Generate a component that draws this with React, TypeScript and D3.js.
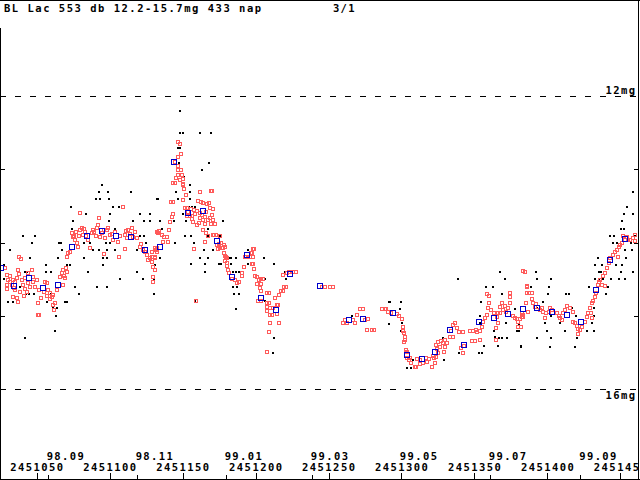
import React from 'react';
import * as d3 from 'd3';

// JD values are stored as JD - 2450000
const JD0 = 2450000;

// 10-day means (blue squares)
const means: [number, number][] = [
  [1025.6, 14.35], [1034.5, 14.59], [1044.7, 14.48], [1054.3, 14.62], [1064.5, 14.58],
  [1074.4, 14.06], [1084.3, 13.91], [1094.6, 13.84], [1104.1, 13.91], [1114.4, 13.92],
  [1123.9, 14.10], [1134.2, 14.06], [1144.4, 12.90], [1154.0, 13.6], [1164.2, 13.57],
  [1173.8, 13.98], [1184.0, 14.47], [1194.3, 14.17], [1203.9, 14.76], [1214.1, 14.92],
  [1223.6, 14.43], [1244.1, 14.59], [1263.9, 15.06], [1273.5, 15.04], [1294.0, 14.96],
  [1303.5, 15.54], [1313.8, 15.59], [1323.3, 15.49], [1333.6, 15.19], [1343.2, 15.40],
  [1353.4, 15.09], [1363.6, 15.03], [1373.2, 14.98], [1383.4, 14.91], [1393.0, 14.89],
  [1403.2, 14.95], [1413.5, 14.99], [1423.0, 15.09], [1433.3, 14.65], [1442.8, 14.24],
  [1453.1, 13.95],
];

// visual estimates (red squares)
const visual: [number, number][] = [
  [1028.3, 14.35], [1029.6, 14.44], [1031.7, 14.46], [1037.9, 14.2], [1039.2, 14.22], [1037.2, 14.37],
  [1037.9, 14.43], [1030.3, 14.51], [1033.8, 14.51], [1029.6, 14.58], [1029.6, 14.63], [1033.1, 14.58],
  [1035.1, 14.65], [1033.8, 14.74], [1036.5, 14.76], [1037.2, 14.81], [1035.1, 14.54], [1036.5, 14.48],
  [1039.9, 14.51], [1042.0, 14.48], [1044.0, 14.42], [1046.8, 14.38], [1047.5, 14.47], [1042.0, 14.63],
  [1040.6, 14.58], [1044.0, 14.55], [1047.5, 14.54], [1050.2, 14.51], [1048.8, 14.61], [1051.6, 14.65],
  [1050.9, 14.82], [1053.0, 14.76], [1050.9, 14.99], [1051.5, 14.99], [1055.7, 14.54], [1057.1, 14.55],
  [1057.7, 14.65], [1059.1, 14.69], [1060.5, 14.74], [1061.2, 14.72], [1062.5, 14.83], [1061.2, 14.85],
  [1061.9, 14.92], [1063.9, 14.65], [1066.0, 14.47], [1067.3, 14.42], [1068.0, 14.38], [1070.8, 14.4],
  [1069.4, 14.48], [1068.0, 14.58], [1070.8, 14.2], [1071.5, 14.14], [1072.8, 14.13], [1074.2, 13.87],
  [1074.9, 13.92], [1076.3, 13.97], [1077.6, 14.01], [1078.3, 14.06], [1079.7, 13.83], [1081.0, 13.8],
  [1079.7, 13.6], [1081.7, 13.9], [1083.1, 13.86], [1085.2, 13.97], [1086.5, 14.07], [1087.9, 13.87],
  [1088.6, 13.83], [1091.3, 13.8], [1092.0, 13.76], [1092.7, 13.67], [1093.4, 13.92], [1094.8, 13.87],
  [1096.8, 13.94], [1098.2, 13.83], [1098.9, 13.8], [1100.2, 13.9], [1102.3, 13.97], [1105.7, 13.99],
  [1103.7, 13.86], [1109.2, 13.52], [1110.5, 13.9], [1111.9, 13.94], [1112.6, 13.83], [1115.3, 13.8],
  [1116.0, 13.92], [1110.5, 14.09], [1106.4, 14.2], [1096.1, 14.16], [1118.7, 13.94], [1120.8, 14.06],
  [1122.9, 14.1], [1125.6, 14.17], [1126.3, 14.24], [1129.0, 14.27], [1129.7, 14.33], [1131.1, 14.21],
  [1132.5, 14.13], [1133.1, 13.87], [1129.7, 14.47], [1129.7, 14.54], [1131.1, 14.37],
  [1031.7, 14.54], [1034.4, 14.62], [1038.6, 14.67], [1041.3, 14.73], [1043.4, 14.67], [1045.4, 14.61],
  [1055.0, 14.68], [1057.1, 14.73], [1059.1, 14.77], [1068.7, 14.46], [1070.1, 14.35], [1075.6, 13.91],
  [1077.0, 13.86], [1079.0, 13.91], [1082.4, 13.82], [1083.8, 13.91], [1089.3, 13.86], [1090.6, 13.91],
  [1096.1, 13.83], [1101.6, 13.88], [1107.1, 13.91], [1111.2, 13.84], [1114.0, 13.88], [1117.4, 13.86],
  [1121.5, 14.02], [1124.2, 14.13], [1127.7, 14.21],
  // outburst
  [1146.9, 12.63], [1148.2, 12.66], [1146.9, 12.83], [1148.9, 12.79], [1144.8, 12.9], [1146.9, 12.96],
  [1148.9, 13.01], [1146.9, 13.08], [1149.6, 13.08], [1148.2, 13.15], [1150.3, 13.13], [1143.4, 13.19],
  [1144.8, 13.19], [1150.3, 13.2], [1150.3, 13.21], [1151.0, 13.27], [1152.3, 13.35], [1150.3, 13.42],
  [1143.4, 13.45], [1142.1, 13.45], [1161.9, 13.31], [1169.5, 13.3], [1170.2, 13.3], [1160.6, 13.43],
  [1162.6, 13.45], [1164.0, 13.46], [1166.7, 13.47], [1168.1, 13.46], [1151.6, 13.53], [1153.0, 13.53],
  [1155.8, 13.54], [1157.8, 13.56], [1159.9, 13.57], [1161.9, 13.6], [1163.3, 13.62], [1165.4, 13.65],
  [1168.8, 13.53], [1170.8, 13.54], [1170.2, 13.62], [1153.0, 13.64], [1155.1, 13.64], [1156.4, 13.64],
  [1143.4, 13.61], [1142.7, 13.65], [1141.4, 13.72], [1157.1, 13.72], [1159.9, 13.76], [1161.2, 13.73],
  [1164.0, 13.69], [1167.4, 13.69], [1169.5, 13.75], [1170.8, 13.69], [1172.2, 13.75], [1165.4, 13.75],
  [1164.0, 13.83], [1166.0, 13.87], [1167.4, 13.91], [1170.8, 13.9], [1172.9, 13.9], [1175.6, 13.91],
  [1165.4, 13.99], [1176.3, 14.01], [1173.6, 14.03], [1178.4, 14.03], [1177.0, 14.07], [1179.1, 14.06],
  [1175.6, 14.07], [1157.8, 14.09], [1178.4, 14.14], [1179.8, 14.2], [1198.3, 14.09], [1196.9, 14.14],
  [1193.5, 14.2], [1196.2, 14.2], [1140.7, 13.83], [1132.5, 13.86], [1133.8, 13.84], [1135.9, 13.9],
  [1137.3, 13.92], [1139.3, 13.92], [1140.0, 13.99], [1136.6, 13.99], [1131.1, 14.07], [1129.0, 14.13],
  [1131.8, 14.1], [1131.1, 14.2], [1129.0, 14.2], [1132.5, 14.07], [1171.5, 13.9],
  [1153.7, 13.58], [1158.5, 13.61], [1161.9, 13.67], [1166.0, 13.58], [1168.8, 13.67], [1156.4, 13.68],
  [1146.9, 13.01], [1145.5, 13.12],
  // decline
  [1175.0, 14.02], [1177.7, 14.07], [1174.3, 14.09], [1179.1, 14.18], [1180.4, 14.21], [1179.1, 14.25],
  [1180.4, 14.28], [1180.4, 14.32], [1181.1, 14.37], [1181.8, 14.42], [1183.9, 14.5], [1185.9, 14.51],
  [1187.3, 14.55], [1188.7, 14.54], [1190.7, 14.46], [1190.7, 14.42], [1192.1, 14.33], [1192.8, 14.2],
  [1197.6, 14.14], [1198.9, 14.09], [1198.3, 14.2], [1197.6, 14.29], [1198.3, 14.29], [1198.9, 14.36],
  [1199.6, 14.46], [1201.0, 14.47], [1202.4, 14.51], [1203.7, 14.5], [1205.1, 14.5], [1201.0, 14.57],
  [1203.7, 14.57], [1203.1, 14.62], [1203.7, 14.66], [1207.8, 14.69], [1209.2, 14.69], [1213.3, 14.76],
  [1216.1, 14.72], [1217.4, 14.66], [1218.8, 14.66], [1219.5, 14.61], [1220.9, 14.61], [1218.8, 14.44],
  [1221.6, 14.42], [1223.0, 14.4], [1225.7, 14.4], [1227.7, 14.4], [1201.7, 14.8], [1203.7, 14.8],
  [1207.8, 14.83], [1209.2, 14.83], [1207.8, 14.88], [1209.9, 14.89], [1212.0, 14.89], [1207.8, 14.94],
  [1209.9, 14.99], [1211.3, 14.99], [1214.7, 14.85], [1215.4, 14.85], [1214.7, 14.98], [1216.1, 15.1],
  [1209.9, 15.1], [1209.2, 15.22], [1207.8, 15.49], [1159.2, 14.8],
  // spring
  [1245.5, 14.61], [1247.6, 14.61], [1251.0, 14.61], [1253.1, 14.61], [1271.6, 14.91], [1273.6, 14.91],
  [1269.5, 14.99], [1261.3, 15.06], [1262.7, 15.1], [1266.8, 15.06], [1268.2, 15.1], [1275.0, 15.06],
  [1277.1, 15.04], [1276.4, 15.19], [1279.8, 15.19], [1281.2, 15.19], [1286.7, 14.91], [1288.7, 14.91],
  [1290.8, 14.95], [1259.9, 15.1],
  // minimum
  [1289.4, 14.91], [1292.8, 14.96], [1297.0, 14.98], [1298.3, 15.0], [1300.4, 15.04], [1301.1, 15.15],
  [1301.1, 15.21], [1301.8, 15.24], [1302.4, 15.33], [1301.8, 15.36], [1303.1, 15.47], [1303.8, 15.49],
  [1303.8, 15.58], [1305.2, 15.6], [1306.6, 15.64], [1309.3, 15.7], [1310.7, 15.59], [1312.7, 15.6],
  [1314.8, 15.64], [1317.5, 15.63], [1318.9, 15.59], [1321.0, 15.7], [1322.3, 15.58], [1323.7, 15.56],
  [1323.0, 15.64], [1325.1, 15.36], [1327.1, 15.34], [1328.5, 15.37], [1331.2, 15.37], [1329.9, 15.43],
  [1333.3, 15.29], [1334.0, 15.21], [1335.3, 15.13], [1336.7, 15.1], [1338.1, 15.17], [1339.4, 15.22],
  [1342.2, 15.22], [1335.3, 15.29], [1326.4, 15.43], [1324.4, 15.45], [1325.1, 15.51], [1329.2, 15.49],
  [1340.8, 15.44], [1342.9, 15.41], [1347.0, 15.21], [1349.0, 15.21], [1351.8, 15.22], [1353.8, 15.21],
  [1355.2, 15.15], [1355.9, 15.09], [1357.3, 15.03], [1358.6, 14.99], [1359.3, 14.89], [1358.6, 14.7],
  [1360.0, 14.73], [1360.0, 14.83], [1361.4, 14.92], [1363.4, 14.96], [1365.5, 15.02], [1366.2, 15.1],
  [1364.8, 15.17], [1364.8, 15.33], [1366.2, 14.96], [1367.6, 14.88], [1369.0, 14.83], [1369.6, 14.92],
  [1371.0, 14.87], [1373.0, 14.89], [1374.4, 14.69], [1374.4, 14.74], [1374.4, 14.83], [1376.5, 15.0],
  [1379.2, 15.04], [1379.9, 15.09], [1381.3, 15.04], [1382.6, 15.02], [1379.9, 15.15], [1383.3, 14.99],
  [1385.4, 14.83], [1386.1, 14.69], [1386.1, 14.59], [1384.7, 14.4], [1353.8, 15.33], [1350.4, 15.34],
  [1348.4, 15.34], [1351.1, 15.19], [1302.4, 15.29], [1323.7, 15.4], [1342.2, 15.51], [1321.6, 15.55],
  [1310.0, 15.7],
  [1305.9, 15.58], [1312.7, 15.66], [1316.8, 15.58], [1329.9, 15.33], [1367.6, 14.96], [1371.7, 14.95],
  [1377.8, 15.03],
  // late rise
  [1383.3, 14.39], [1386.1, 14.61], [1387.4, 14.69], [1389.5, 14.69], [1389.5, 14.77], [1390.2, 14.83],
  [1392.2, 14.84], [1391.5, 14.88], [1393.6, 14.88], [1396.3, 14.89], [1397.0, 14.95], [1399.1, 14.96],
  [1398.4, 15.03], [1401.1, 14.95], [1403.2, 14.92], [1406.6, 14.96], [1408.0, 15.0], [1410.0, 15.06],
  [1410.7, 14.96], [1412.1, 14.92], [1413.5, 14.87], [1415.5, 14.89], [1417.6, 14.95], [1417.6, 15.09],
  [1419.0, 15.1], [1420.3, 15.14], [1421.0, 15.18], [1421.0, 15.25], [1423.8, 15.15], [1425.8, 15.09],
  [1427.2, 15.02], [1427.9, 14.96], [1429.2, 14.89], [1430.6, 14.83], [1431.3, 14.8], [1432.7, 14.74],
  [1433.4, 14.69], [1434.7, 14.58], [1436.1, 14.51], [1438.1, 14.46], [1439.5, 14.42], [1440.9, 14.35],
  [1442.3, 14.28], [1445.0, 14.17], [1446.4, 14.13], [1447.7, 14.1], [1449.1, 14.06], [1451.2, 14.01],
  [1453.2, 13.97], [1454.6, 13.92], [1456.7, 13.97], [1458.7, 13.94], [1460.1, 13.9], [1460.1, 13.98],
  [1451.8, 13.91], [1448.4, 14.2], [1437.5, 14.58], [1439.5, 14.59], [1435.4, 14.54], [1430.6, 15.03],
  [1429.9, 14.96], [1385.4, 14.83], [1382.6, 14.96], [1383.3, 15.02], [1381.9, 15.15], [1386.8, 14.95],
  [1395.0, 14.92], [1401.8, 14.89], [1408.7, 15.03], [1422.4, 15.19], [1443.0, 14.21], [1449.8, 14.03],
  [1455.3, 13.97],
];

// other observations (black dots)
const other: [number, number][] = [
  [1094.8, 13.21], [1092.7, 13.31], [1098.9, 13.31], [1114.6, 13.31], [1090.6, 13.41], [1093.4, 13.41],
  [1099.6, 13.41], [1132.5, 13.41], [1073.5, 13.51], [1102.3, 13.51], [1106.4, 13.51], [1083.8, 13.61],
  [1100.2, 13.61], [1120.8, 13.61], [1127.7, 13.61], [1074.9, 13.71], [1099.6, 13.71], [1116.0, 13.71],
  [1123.5, 13.71], [1127.7, 13.71], [1074.2, 13.82], [1103.7, 13.82], [1040.6, 13.91], [1048.8, 13.91],
  [1076.3, 13.91], [1120.8, 13.91], [1123.5, 13.91], [1046.8, 14.01], [1065.3, 14.01], [1066.7, 14.01],
  [1082.4, 14.01], [1086.5, 14.01], [1097.5, 14.01], [1100.2, 14.01], [1124.9, 14.01], [1031.7, 14.1],
  [1067.3, 14.1], [1088.6, 14.1], [1092.7, 14.1], [1098.2, 14.1], [1103.7, 14.1], [1118.7, 14.1],
  [1045.4, 14.21], [1064.6, 14.21], [1082.4, 14.21], [1095.5, 14.21], [1098.2, 14.21], [1027.6, 14.31],
  [1056.4, 14.31], [1070.8, 14.31], [1072.8, 14.31], [1095.5, 14.31], [1131.1, 14.31], [1056.4, 14.4],
  [1059.8, 14.4], [1042.0, 14.4], [1043.4, 14.4], [1085.2, 14.4], [1118.7, 14.4], [1027.6, 14.5],
  [1107.1, 14.5], [1122.9, 14.5], [1130.4, 14.5], [1038.6, 14.61], [1076.3, 14.61], [1091.3, 14.61],
  [1098.2, 14.61], [1042.7, 14.7], [1044.7, 14.7], [1048.2, 14.7], [1079.0, 14.7], [1059.8, 14.7],
  [1130.4, 14.7], [1030.3, 14.81], [1033.8, 14.81], [1057.1, 14.81], [1069.4, 14.81], [1070.8, 14.81],
  [1061.2, 14.89], [1063.9, 14.89], [1063.2, 15.0], [1062.5, 15.21], [1042.0, 15.31],
  [1148.2, 12.2], [1148.2, 12.5], [1150.3, 12.5], [1161.9, 12.5], [1169.5, 12.5], [1146.9, 12.71],
  [1148.2, 12.71], [1147.5, 12.91], [1168.1, 12.91], [1163.3, 13.01], [1151.0, 13.11], [1155.1, 13.21],
  [1145.5, 13.31], [1155.1, 13.31], [1133.1, 13.41], [1146.9, 13.41], [1155.1, 13.41], [1154.4, 13.51],
  [1156.4, 13.51], [1158.5, 13.51], [1150.3, 13.61], [1134.5, 13.71], [1144.1, 13.71], [1152.3, 13.71],
  [1177.7, 13.71], [1167.4, 13.82], [1135.9, 13.82], [1151.6, 13.91], [1155.8, 13.91], [1167.4, 13.91],
  [1175.6, 13.91], [1144.8, 14.01], [1157.8, 14.01], [1164.7, 14.1], [1170.8, 14.1], [1194.8, 14.1],
  [1161.9, 14.21], [1167.4, 14.21], [1181.8, 14.21], [1183.2, 14.21], [1186.6, 14.21], [1205.8, 14.21],
  [1134.5, 14.21],
  [1155.8, 14.29], [1165.4, 14.29], [1175.0, 14.29], [1176.3, 14.29], [1183.2, 14.29], [1194.8, 14.29],
  [1212.6, 14.29], [1165.4, 14.4], [1184.5, 14.4], [1186.6, 14.4], [1188.7, 14.4], [1220.2, 14.4],
  [1206.5, 14.5], [1182.5, 14.5], [1220.9, 14.5], [1184.5, 14.61], [1187.3, 14.61], [1185.2, 14.7],
  [1188.7, 14.7], [1158.5, 14.8], [1206.5, 14.8], [1186.6, 14.91], [1212.6, 15.3], [1212.0, 15.51],
  [1266.1, 15.0], [1291.5, 14.81], [1291.5, 15.11],
  [1367.6, 14.4], [1338.8, 14.5], [1371.0, 14.5], [1358.0, 14.61], [1362.7, 14.61], [1292.2, 14.81],
  [1299.7, 14.81], [1354.5, 14.81], [1369.0, 14.7], [1299.0, 14.91], [1377.8, 14.91], [1353.8, 15.0],
  [1300.4, 15.1], [1353.8, 15.1], [1371.7, 15.1], [1380.6, 15.11], [1299.7, 15.21], [1363.4, 15.21],
  [1379.2, 15.21], [1380.6, 15.21], [1364.1, 15.29], [1366.9, 15.3], [1369.0, 15.3], [1372.4, 15.3],
  [1328.5, 15.3], [1356.6, 15.41], [1366.2, 15.41], [1381.9, 15.41], [1339.4, 15.51], [1353.2, 15.51],
  [1355.2, 15.51], [1307.9, 15.6], [1329.2, 15.6], [1303.8, 15.71], [1306.6, 15.71],
  [1458.7, 13.31], [1454.6, 13.52], [1452.5, 13.61], [1458.7, 13.61], [1451.2, 13.71], [1450.5, 13.82],
  [1452.5, 13.82], [1443.0, 13.91], [1445.7, 13.91], [1460.1, 13.91], [1445.0, 14.01], [1447.7, 14.01],
  [1457.3, 14.01], [1453.2, 14.1], [1458.0, 14.1], [1434.7, 14.21], [1453.9, 14.21], [1432.7, 14.31],
  [1437.5, 14.31], [1447.1, 14.31], [1451.2, 14.31], [1435.4, 14.4], [1436.8, 14.4], [1450.5, 14.4],
  [1458.7, 14.4], [1392.2, 14.4], [1435.4, 14.5], [1438.1, 14.5], [1443.6, 14.5], [1449.1, 14.5],
  [1453.2, 14.5], [1392.9, 14.5], [1402.5, 14.5], [1432.7, 14.5], [1388.8, 14.61], [1401.1, 14.61],
  [1428.6, 14.61], [1441.6, 14.61], [1412.8, 14.7], [1414.8, 14.7], [1440.2, 14.7], [1400.4, 14.7],
  [1397.0, 14.81], [1416.9, 14.89], [1432.0, 14.89], [1392.9, 14.89], [1402.5, 15.0], [1419.6, 15.0],
  [1432.0, 15.0], [1398.4, 15.1], [1408.7, 15.1], [1430.6, 15.1], [1427.2, 15.21], [1432.0, 15.21],
  [1412.1, 15.21], [1399.8, 15.21], [1420.3, 15.31], [1392.9, 15.31], [1402.5, 15.31], [1418.9, 15.42],
  [1401.8, 15.42], [1382.0, 15.42],
];

const jdTicks = [1050, 1100, 1150, 1200, 1250, 1300, 1350, 1400, 1450];
const monthLabels = ['98.09', '98.11', '99.01', '99.03', '99.05', '99.07', '99.09'];
const monthStarts = [1057.5, 1118.5, 1179.5, 1238.5, 1299.5, 1360.5, 1422.5];
const magTicks = [13, 14, 15];
const magLines = [12, 16];
const title = 'BL Lac 553 db 12.2-15.7mg 433 nap';
const page = '3/1';

const W = 640;
const H = 480;
const CH = 7.85;

const x = d3.scaleLinear().domain([1050, 1450]).range([36.7, 620.3]);
const y = d3.scaleLinear().domain([12, 16]).range([96, 389]);

const RED = '#ff5a5a';
const BLUE = '#0000cc';

function Label({ tx, ty, s, anchor = 'start' }: { tx: number; ty: number; s: string; anchor?: string }) {
  return (
    <text
      x={tx}
      y={ty}
      textAnchor={anchor}
      textLength={s.length * CH - 2}
      lengthAdjust="spacing"
      fontFamily="'DejaVu Sans Mono', monospace"
      fontWeight="bold"
      fontSize={10.5}
      fill="#000"
    >
      {s}
    </text>
  );
}

export default function App() {
  const px = (d: number) => Math.round(x(d));
  const py = (m: number) => Math.round(y(m));

  return (
    <svg
      width={W}
      height={H}
      style={{ position: 'absolute', left: 0, top: 0, background: '#fff' }}
      shapeRendering="crispEdges"
    >
      <rect width={W} height={H} fill="#fff" />

      {/* dashed limit lines */}
      {magLines.map(m => (
        <line key={m} x1={0} x2={W} y1={py(m) + 0.5} y2={py(m) + 0.5}
          stroke="#000" strokeWidth={1} strokeDasharray="6 9" />
      ))}

      {/* observations */}
      <g>
        {other.map(([d, m], i) => (
          <rect key={i} x={px(d) - 1} y={py(m) - 1} width={2} height={2} fill="#000" />
        ))}
      </g>
      <g>
        {visual.map(([d, m], i) => (
          <rect key={i} x={px(d) - 1.5} y={py(m) - 1.5} width={3} height={3}
            fill="none" stroke={RED} strokeWidth={1} />
        ))}
      </g>
      <g>
        {means.map(([d, m], i) => (
          <rect key={i} x={px(d) - 2.5} y={py(m) - 2.5} width={5} height={5}
            fill="none" stroke={BLUE} strokeWidth={1} />
        ))}
      </g>

      {/* frame */}
      <line x1={0} x2={W} y1={0.5} y2={0.5} stroke="#000" />
      <line x1={0.5} x2={0.5} y1={28} y2={H} stroke="#000" />
      <line x1={638.5} x2={638.5} y1={0} y2={H} stroke="#000" />
      <line x1={0} x2={W} y1={479.5} y2={479.5} stroke="#000" />

      {/* magnitude ticks */}
      {magTicks.map(m => (
        <g key={m}>
          <line x1={0} x2={5} y1={py(m) + 0.5} y2={py(m) + 0.5} stroke="#000" />
          <line x1={634} x2={639} y1={py(m) + 0.5} y2={py(m) + 0.5} stroke="#000" />
        </g>
      ))}
      <Label tx={635} ty={py(12) - 2} s="12mg" anchor="end" />
      <Label tx={635} ty={py(16) + 10} s="16mg" anchor="end" />

      {/* time axis */}
      {jdTicks.map(t => (
        <g key={t}>
          <line x1={px(t) + 0.5} x2={px(t) + 0.5} y1={473} y2={480} stroke="#000" />
          <Label tx={x(t)} ty={471} s={String(JD0 + t)} anchor="middle" />
        </g>
      ))}
      {monthStarts.map((t, i) => (
        <g key={t}>
          <line x1={px(t) + 0.5} x2={px(t) + 0.5} y1={475} y2={480} stroke="#000" />
          <Label tx={x(t) - 1} ty={460} s={monthLabels[i]} />
        </g>
      ))}

      <Label tx={4} ty={12} s={title} />
      <Label tx={333} ty={12} s={page} />
    </svg>
  );
}
